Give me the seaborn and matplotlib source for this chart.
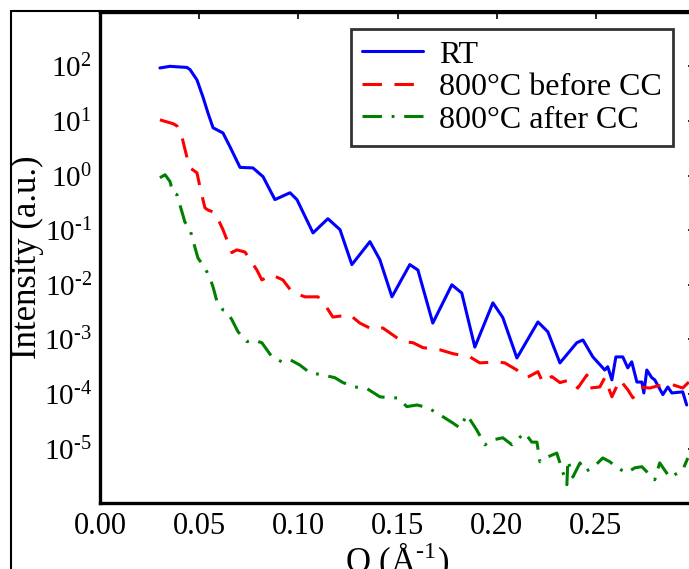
import numpy as np
import pandas as pd
import matplotlib
matplotlib.use("Agg")
import matplotlib.pyplot as plt
import seaborn as sns
from matplotlib.ticker import LogLocator, NullFormatter, FuncFormatter, FixedLocator
from matplotlib.patches import Rectangle

# values: Q in 1/Angstrom, intensity given as log10
rt_q = [0.0302, 0.0353, 0.0393, 0.0438, 0.0454, 0.0489, 0.0519, 0.0544, 0.0570, 0.0620,
        0.0655, 0.0706, 0.0771, 0.0822, 0.0882, 0.0958, 0.0993, 0.1074, 0.1149, 0.1210,
        0.1270, 0.1361, 0.1411, 0.1472, 0.1562, 0.1603, 0.1678, 0.1774, 0.1824, 0.1890,
        0.1981, 0.2031, 0.2102, 0.2208, 0.2258, 0.2319, 0.2404, 0.2435, 0.2485, 0.2545,
        0.2560, 0.2581, 0.2601, 0.2636, 0.2661, 0.2681, 0.2707, 0.2732, 0.2742, 0.2757,
        0.2782, 0.2797, 0.2838, 0.2863, 0.2883, 0.2938, 0.2958]
rt_log = [1.97, 2.00, 1.99, 1.98, 1.94, 1.75, 1.44, 1.15, 0.875, 0.78,
          0.53, 0.15, 0.14, -0.02, -0.44, -0.315, -0.44, -1.05, -0.79, -0.99,
          -1.63, -1.21, -1.54, -2.22, -1.63, -1.73, -2.70, -2.00, -2.15, -3.14,
          -2.33, -2.60, -3.34, -2.68, -2.86, -3.43, -3.06, -3.01, -3.32, -3.56,
          -3.50, -3.74, -3.32, -3.32, -3.52, -3.41, -3.78, -3.78, -3.98, -3.56,
          -3.70, -3.74, -4.01, -3.87, -3.98, -3.96, -4.20]

before_q = [0.0302, 0.0368, 0.0388, 0.0413, 0.0438, 0.0454, 0.0489, 0.0504, 0.0529, 0.0544,
            0.0580, 0.0620, 0.0665, 0.0690, 0.0731, 0.0791, 0.0816, 0.0867, 0.0922, 0.0968,
            0.1033, 0.1099, 0.1144, 0.1174, 0.1260, 0.1310, 0.1376, 0.1426, 0.1497, 0.1527,
            0.1578, 0.1628, 0.1714, 0.1779, 0.1865, 0.1915, 0.2001, 0.2041, 0.2102, 0.2152,
            0.2208, 0.2233, 0.2278, 0.2319, 0.2369, 0.2409, 0.2455, 0.2470, 0.2520, 0.2545,
            0.2581, 0.2621, 0.2661, 0.2687, 0.2722, 0.2772, 0.2812, 0.2888, 0.2938, 0.2969]
before_log = [1.02, 0.95, 0.91, 0.71, 0.34, 0.14, 0.05, -0.21, -0.59, -0.63,
              -0.68, -0.99, -1.41, -1.36, -1.40, -1.73, -1.91, -1.82, -1.91, -2.13,
              -2.22, -2.22, -2.42, -2.59, -2.55, -2.70, -2.82, -2.79, -2.97, -3.04,
              -3.06, -3.15, -3.19, -3.26, -3.32, -3.43, -3.41, -3.43, -3.56, -3.70,
              -3.59, -3.79, -3.68, -3.79, -3.74, -3.89, -3.65, -3.89, -3.87, -3.70,
              -4.05, -3.74, -3.92, -4.07, -3.87, -3.89, -3.85, -3.83, -3.89, -3.78]

after_q = [0.0302, 0.0328, 0.0353, 0.0368, 0.0388, 0.0428, 0.0454, 0.0479, 0.0494, 0.0529,
           0.0554, 0.0570, 0.0590, 0.0620, 0.0640, 0.0665, 0.0696, 0.0741, 0.0771, 0.0816,
           0.0867, 0.0917, 0.0958, 0.1008, 0.1058, 0.1124, 0.1184, 0.1225, 0.1285, 0.1346,
           0.1411, 0.1462, 0.1502, 0.1547, 0.1598, 0.1653, 0.1714, 0.1779, 0.1815, 0.1850,
           0.1900, 0.1941, 0.1981, 0.2031, 0.2077, 0.2102, 0.2142, 0.2177, 0.2203, 0.2218,
           0.2258, 0.2303, 0.2354, 0.2359, 0.2384, 0.2420, 0.2445, 0.2485, 0.2535, 0.2571,
           0.2606, 0.2656, 0.2697, 0.2732, 0.2797, 0.2822, 0.2873, 0.2938, 0.2964]
after_log = [-0.04, 0.015, -0.11, -0.32, -0.35, -0.85, -0.99, -1.32, -1.51, -1.69,
             -1.87, -2.04, -2.31, -2.46, -2.49, -2.64, -2.86, -3.04, -3.01, -3.06,
             -3.32, -3.41, -3.37, -3.47, -3.61, -3.65, -3.70, -3.79, -3.87, -3.90,
             -4.05, -4.07, -4.07, -4.23, -4.20, -4.25, -4.38, -4.53, -4.62, -4.38,
             -4.66, -4.93, -4.84, -4.80, -4.93, -4.84, -4.71, -4.88, -4.88, -5.24,
             -5.15, -5.08, -5.66, -5.21, -5.52, -5.26, -5.42, -5.35, -5.17, -5.24,
             -5.35, -5.44, -5.35, -5.33, -5.57, -5.26, -5.53, -5.39, -5.17]

labels = ["RT", "800°C before CC", "800°C after CC"]
colors = ["blue", "red", "green"]
x_ticks = [0.00, 0.05, 0.10, 0.15, 0.20, 0.25]
y_exps = [-5, -4, -3, -2, -1, 0, 1, 2]

frames = []
for name, q, lg in zip(labels, [rt_q, before_q, after_q], [rt_log, before_log, after_log]):
    frames.append(pd.DataFrame({"Q": q, "I": 10 ** np.array(lg), "sample": name}))
df = pd.concat(frames, ignore_index=True)

sns.set_style("white")
plt.rcParams["font.family"] = ["Liberation Serif", "DejaVu Serif"]
plt.rcParams["mathtext.fontset"] = "custom"
plt.rcParams["mathtext.rm"] = "Liberation Serif"
plt.rcParams["lines.scale_dashes"] = False
for key in ["text.color", "axes.labelcolor", "xtick.color", "ytick.color", "axes.edgecolor"]:
    plt.rcParams[key] = "black"

fig = plt.figure(figsize=(6.89, 5.69), dpi=100)
ax = fig.add_axes([100 / 689, 65.7 / 569, 595 / 689, 491.6 / 569])

sns.lineplot(data=df, x="Q", y="I", hue="sample", style="sample",
             palette=dict(zip(labels, colors)),
             dashes={labels[0]: "", labels[1]: (14, 9), labels[2]: (14, 7, 2, 7)},
             estimator=None, sort=False, linewidth=2.2, ax=ax)

ax.set_yscale("log")
ax.set_xlim(0, 0.30)
ax.set_ylim(1e-6, 1e3)
ax.xaxis.set_major_locator(FixedLocator(x_ticks))
ax.xaxis.set_major_formatter(FuncFormatter(lambda v, p: f"{v:.2f}"))
ax.set_yticks([10.0 ** k for k in y_exps])
ax.yaxis.set_major_formatter(FuncFormatter(
    lambda v, p: r"$\mathregular{10^{\text{%d}}}$" % round(np.log10(v))))
ax.yaxis.set_minor_locator(LogLocator(base=10, subs=np.arange(2, 10), numticks=100))
ax.yaxis.set_minor_formatter(NullFormatter())

ax.tick_params(which="both", direction="in", top=True, right=True, width=1.2)
ax.tick_params(which="major", length=5, pad=6)
ax.tick_params(axis="x", which="major", labelsize=22)
ax.tick_params(axis="y", which="major", labelsize=21)
ax.tick_params(which="minor", length=2.5)
for sp in ax.spines.values():
    sp.set_linewidth(2.4)
    sp.set_color("black")

ax.set_xlabel(r"Q (Å$^{\text{-1}}$)", fontsize=25, labelpad=0)
ax.set_ylabel("Intensity (a.u.)", fontsize=25, labelpad=0)

leg = ax.legend(loc="upper left", bbox_to_anchor=(351 / 689, 1 - 29 / 569),
                bbox_transform=fig.transFigure, borderaxespad=0, fontsize=23,
                fancybox=False, frameon=True, handlelength=1.9, handletextpad=0.5,
                labelspacing=0.1, borderpad=0.35, title=None)
leg.get_frame().set_edgecolor("black")
leg.get_frame().set_linewidth(2.0)

fig.patches.append(Rectangle((11 / 689, -0.1), 1.2, 1 - 11 / 569 + 0.1,
                             transform=fig.transFigure, fill=False,
                             edgecolor="black", linewidth=1.5, zorder=-1))

fig.savefig("out.png", dpi=100)
